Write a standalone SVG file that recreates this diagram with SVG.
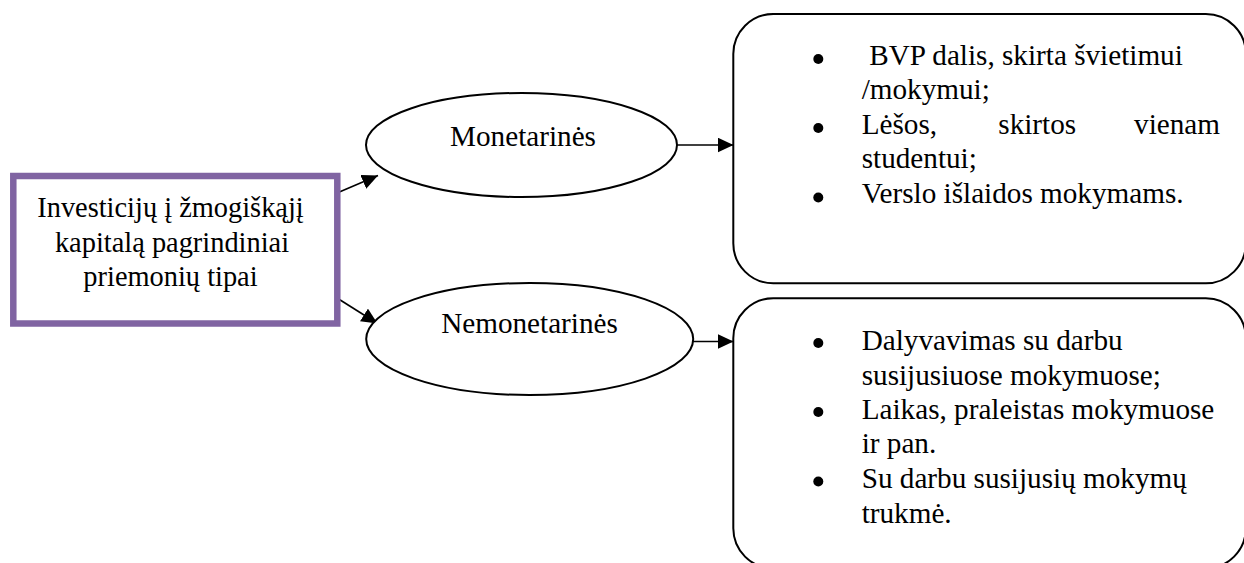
<svg xmlns="http://www.w3.org/2000/svg" width="1244" height="563" viewBox="0 0 1244 563" font-family="Liberation Serif, Times New Roman, serif">
<style>
text{font-size:29.2px;fill:#000}
.c{text-anchor:middle}
.r{font-size:28.4px}
.sh{fill:#fff;stroke:#000;stroke-width:2}
.ln{stroke:#000;stroke-width:1.6;fill:none}
.b{fill:#000}
</style>
<defs>
<marker id="ah" markerWidth="16" markerHeight="15" refX="16" refY="7.5" orient="auto" markerUnits="userSpaceOnUse">
<path d="M0,0 L16,7.5 L0,15 Z" fill="#000"/>
</marker>
</defs>
<g id="connectors">
<line class="ln" x1="337" y1="193" x2="378" y2="175.5" marker-end="url(#ah)"/>
<line class="ln" x1="337" y1="298" x2="377.5" y2="323.5" marker-end="url(#ah)"/>
<line class="ln" x1="677" y1="145" x2="733.5" y2="145" marker-end="url(#ah)"/>
<line class="ln" x1="693" y1="341.5" x2="733.5" y2="341.5" marker-end="url(#ah)"/>
</g>
<g id="root">
<rect x="13.3" y="176" width="324" height="147.5" fill="#fff" stroke="#8064a2" stroke-width="6.5"/>
<text class="c r" x="170.5" y="217">Investicijų į žmogiškąjį</text>
<text class="c r" x="172" y="251.5">kapitalą pagrindiniai</text>
<text class="c r" x="170.5" y="285.5">priemonių tipai</text>
</g>
<g id="monetarines">
<ellipse class="sh" cx="521.5" cy="145" rx="155.5" ry="52"/>
<text class="c" x="523" y="146">Monetarinės</text>
</g>
<g id="nemonetarines">
<ellipse class="sh" cx="529.7" cy="339" rx="163.5" ry="56"/>
<text class="c" x="529.5" y="333">Nemonetarinės</text>
</g>
<g id="box-monetarines">
<rect class="sh" x="733.3" y="14" width="512.5" height="269.3" rx="40" ry="40"/>
<circle class="b" cx="818.3" cy="59" r="5"/>
<circle class="b" cx="818.3" cy="128" r="5"/>
<circle class="b" cx="818.3" cy="197.5" r="5"/>
<text x="862" y="65" xml:space="preserve"> BVP dalis, skirta švietimui</text>
<text x="861.7" y="99">/mokymui;</text>
<text x="861.7" y="133.5">Lėšos,</text>
<text x="998.3" y="133.5">skirtos</text>
<text x="1220" y="133.5" text-anchor="end">vienam</text>
<text x="861.7" y="168">studentui;</text>
<text x="861.7" y="203">Verslo išlaidos mokymams.</text>
</g>
<g id="box-nemonetarines">
<rect class="sh" x="733.3" y="298.3" width="512.5" height="270" rx="40" ry="40"/>
<circle class="b" cx="818.3" cy="343" r="5"/>
<circle class="b" cx="818.3" cy="412" r="5"/>
<circle class="b" cx="818.3" cy="481.5" r="5"/>
<text x="861.7" y="350">Dalyvavimas su darbu</text>
<text x="861.7" y="384.5">susijusiuose mokymuose;</text>
<text x="861.7" y="418.5">Laikas, praleistas mokymuose</text>
<text x="861.7" y="453">ir pan.</text>
<text x="861.7" y="488">Su darbu susijusių mokymų</text>
<text x="861.7" y="522.5">trukmė.</text>
</g>
</svg>
